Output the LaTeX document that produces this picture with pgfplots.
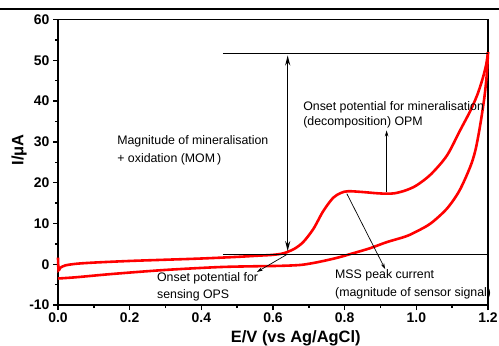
\documentclass[border=0pt]{standalone}
\usepackage{fontspec}
\setmainfont{Liberation Sans}
\usepackage{pgfplots}
\pgfplotsset{compat=1.18}
\usetikzlibrary{arrows.meta}
\begin{document}
\begin{tikzpicture}[x=1bp,y=1bp]
\useasboundingbox (0,0) rectangle (499,345);
\draw[line width=1.6pt] (0,336) -- (499,336);
\begin{axis}[
 at={(58bp,40bp)}, anchor=south west,
 width=430bp, height=285.5bp, scale only axis,
 xmin=0, xmax=1.2, ymin=-10, ymax=60,
 xtick={0,0.2,0.4,0.6,0.8,1.0,1.2}, ytick={-10,0,10,20,30,40,50,60},
 minor x tick num=1, minor y tick num=1,
 tick align=outside, xtick pos=bottom, ytick pos=left,
 major tick length=5bp, minor tick length=3bp,
 every tick/.style={line width=1.4pt, black},
 axis line style={line width=2pt},
 xticklabel style={/pgf/number format/fixed,/pgf/number format/fixed zerofill,/pgf/number format/precision=1, yshift=1bp},
 /pgf/number format/assume math mode=true,
 ticklabel style={font=\bfseries\fontsize{14}{15}\selectfont},
 xlabel={E/V (vs Ag/AgCl)}, ylabel={I/μA},
 label style={font=\bfseries\fontsize{16.5}{18}\selectfont},
 xlabel style={at={(axis description cs:0.553,-0.116)},anchor=center},
 ylabel style={at={(axis description cs:-0.0907,0.543)},anchor=center},
 clip=false,
]
% CV curves
\addplot[red, line width=2.6pt, smooth, tension=0.5] coordinates {
(0,1.6)(0.0015,-1.5)(0.006,-0.9)(0.02,-0.3)(0.05,0.1)(0.1,0.4)(0.2,0.8)(0.3,1.1)(0.4,1.4)(0.5,1.8)(0.56,2.1)(0.6,2.3)(0.63,2.7)(0.66,3.8)(0.685,5.5)(0.713,8.7)(0.74,13.0)(0.768,16.3)(0.79,17.5)(0.81,17.9)(0.85,17.7)(0.89,17.4)(0.917,17.3)(0.94,17.4)(0.97,18.1)(1.0,19.3)(1.04,22.0)(1.085,26.6)(1.122,32.8)(1.15,37.5)(1.17,41.5)(1.185,45.5)(1.195,49)(1.2,52)
};
\addplot[red, line width=2.6pt, smooth, tension=0.5] coordinates {
(0,-3.5)(0.05,-3.2)(0.15,-2.4)(0.3,-1.4)(0.45,-0.7)(0.55,-0.5)(0.62,-0.4)(0.68,-0.15)(0.73,0.6)(0.78,1.6)(0.82,2.6)(0.87,3.9)(0.917,5.4)(0.97,6.8)(1.0,8.0)(1.04,10.0)(1.085,13.6)(1.12,18.0)(1.15,23.8)(1.165,28)(1.178,34)(1.19,41)(1.197,47)(1.2,52)
};
% reference lines
\addplot[black, line width=0.9pt] coordinates {(0.46,51.8)(1.2,51.8)};
\addplot[black, line width=0.9pt] coordinates {(0.46,2.5)(1.2,2.5)};
% double arrow MOM
\addplot[black, line width=1.6pt, {Stealth[length=10bp,width=5bp]}-{Stealth[length=10bp,width=5bp]}] coordinates {(0.641,51.2)(0.641,3.2)};
% OPM arrow
\addplot[black, line width=0.7pt, -{Stealth[length=6bp,width=3.5bp]}] coordinates {(0.917,17.6)(0.917,32.8)};
% MSS arrow
\addplot[black, line width=0.7pt, -{Stealth[length=6bp,width=3.5bp]}] coordinates {(0.806,17.3)(0.913,-1.2)};
% OPS arrow
\addplot[black, line width=0.7pt, -{Stealth[length=6bp,width=3.5bp]}] coordinates {(0.641,2.5)(0.555,-1.9)};
% texts
\tikzset{ann/.style={anchor=west, inner sep=0pt, font=\fontsize{12.4}{14}\selectfont}}
\node[ann] at (axis cs:0.165,30.1) {Magnitude of mineralisation};
\node[ann] at (axis cs:0.165,25.7) {+ oxidation (MOM\,)};
\node[ann] at (axis cs:0.684,38.5) {Onset potential for mineralisation};
\node[ann] at (axis cs:0.684,34.8) {(decomposition) OPM};
\node[ann] at (axis cs:0.773,-2.7) {MSS peak current};
\node[ann] at (axis cs:0.773,-7.1) {(magnitude of sensor signal)};
\node[ann] at (axis cs:0.276,-3.4) {Onset potential for};
\node[ann] at (axis cs:0.276,-7.6) {sensing OPS};
\end{axis}
\end{tikzpicture}
\end{document}
